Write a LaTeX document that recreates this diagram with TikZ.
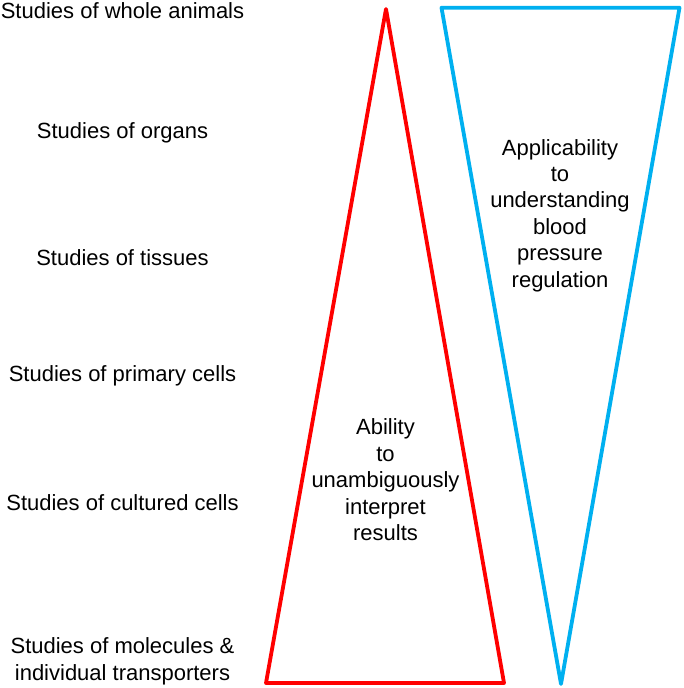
\documentclass[tikz,border=0pt]{standalone}
\usepackage{fontspec}
\setmainfont{Liberation Sans}
\definecolor{tred}{HTML}{FF0000}
\definecolor{tblue}{HTML}{00B0F0}
\begin{document}
\begin{tikzpicture}[x=1pt,y=-1pt,
  lab/.style={anchor=base,inner sep=0pt,align=center,font=\fontsize{22}{26.4}\selectfont},
  tri/.style={line width=3.8pt,line join=round}]
\useasboundingbox (0,0) rectangle (683,688);
% triangles
\draw[tri,tred] (386,9) -- (504,683) -- (266,683) -- cycle;
\draw[tri,tblue] (441.5,7.7) -- (679.5,7.7) -- (561,684) -- cycle;
% left labels (base = baseline of last line)
\node[lab] (whole) at (122.5,18) {Studies of whole animals};
\node[lab] (organs) at (122.5,138) {Studies of organs};
\node[lab] (tissues) at (122.5,265) {Studies of tissues};
\node[lab] (primary) at (122.5,381) {Studies of primary cells};
\node[lab] (cultured) at (122.5,510) {Studies of cultured cells};
\node[lab] (molecules) at (122.5,680) {Studies of molecules \&\\individual transporters};
% inner labels
\node[lab] (ability) at (385.5,540.5) {Ability\\to\\unambiguously\\interpret\\results};
\node[lab] (applic) at (560,287) {Applicability\\to\\understanding\\blood\\pressure\\regulation};
\end{tikzpicture}
\end{document}
